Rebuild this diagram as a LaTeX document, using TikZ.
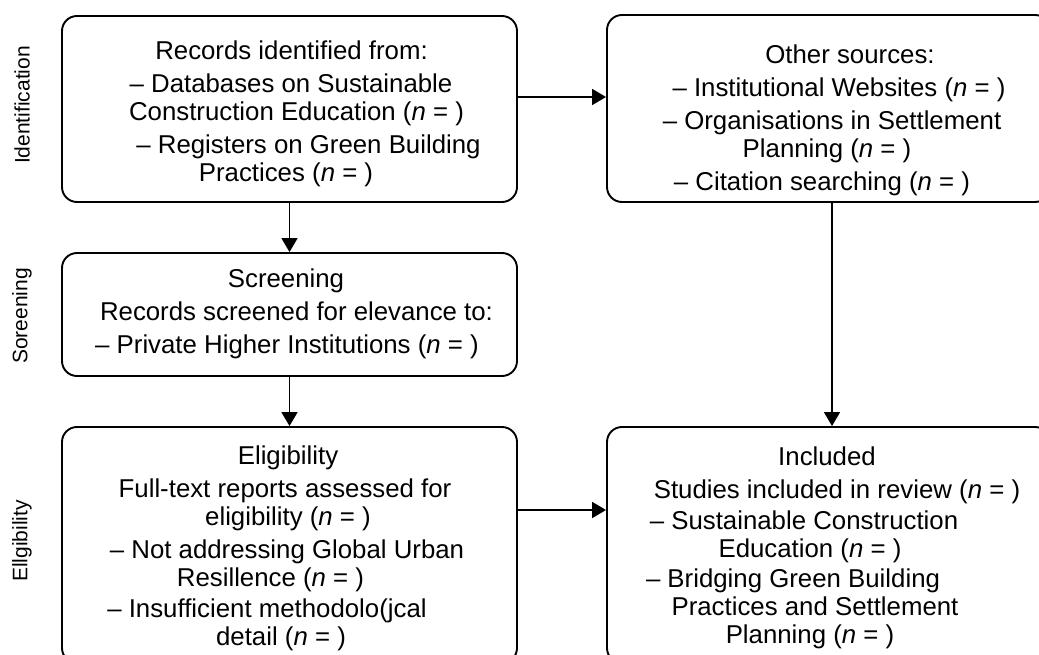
\documentclass[tikz,border=0pt]{standalone}
\usepackage{fontspec}
\setmainfont{Liberation Sans}
\usetikzlibrary{arrows.meta}
\newcommand\lineat[2]{\makebox[0pt]{\hspace*{#1pt}#2}}
\newcommand\nn{(\textit{n} = )}
\begin{document}
\begin{tikzpicture}[x=1pt,y=-1pt,
  box/.style={draw, line width=1.9pt, rounded corners=15pt, inner sep=0pt},
  txt/.style={align=center, font=\fontsize{25.8}{28}\selectfont, inner sep=0pt},
  side/.style={rotate=90, font=\fontsize{21}{25}\selectfont, inner sep=0pt},
  arr/.style={line width=1.8pt, -{Triangle[length=14pt,width=16pt]}}]
\useasboundingbox (0,0) rectangle (1039,655);
\begin{scope}
\clip (0,0) rectangle (1039,655);
\node[box, minimum width=455pt, minimum height=186pt] (A) at (289.5,109) {};
\node[box, minimum width=443pt, minimum height=187pt] (B) at (828.5,108.5) {};
\node[box, minimum width=455pt, minimum height=123pt] (C) at (289.5,314.5) {};
\node[box, minimum width=455pt, minimum height=236pt] (D) at (289.5,545) {};
\node[box, minimum width=443pt, minimum height=236pt] (E) at (828.5,545) {};
\node[txt] (At) at (289.5,113.6)
  {\lineat{4}{Records identified from:}\\[5pt]
   \lineat{3}{-- Databases on Sustainable}\\
   \lineat{14}{Construction Education \nn}\\[5pt]
   \lineat{38}{-- Registers on Green Building}\\
   \lineat{-7}{Practices \nn}};
\node[txt] (Bt) at (832,120.6)
  {\lineat{36}{Other sources:}\\[5pt]
   \lineat{14}{-- Institutional Websites \nn}\\[5pt]
   \lineat{0}{-- Organisations in Settlement}\\
   \lineat{-10}{Planning \nn}\\[5pt]
   \lineat{-20}{-- Citation searching \nn}};
\node[txt] (Ct) at (289.5,314)
  {\lineat{-7}{Screening}\\[5pt]
   \lineat{14}{Records screened for elevance to:}\\[5pt]
   \lineat{-5}{-- Private Higher Institutions \nn}};
\node[txt] (Dt) at (289.5,548.6)
  {\lineat{-3}{Eligibility}\\[5pt]
   \lineat{-9}{Full-text reports assessed for}\\
   \lineat{-3}{eligibility \nn}\\[5pt]
   \lineat{-5}{-- Not addressing Global Urban}\\
   \lineat{-38}{Resillence \nn}\\[3pt]
   \lineat{-45}{-- Insufficient methodolo(jcal}\\
   \lineat{-17}{detail \nn}};
\node[txt] (Et) at (832,547.6)
  {\lineat{-10}{Included}\\[5pt]
   \lineat{10}{Studies included in review \nn}\\[3pt]
   \lineat{-56}{-- Sustainable Construction}\\
   \lineat{-44}{Education \nn}\\[2pt]
   \lineat{-78}{-- Bridging Green Building}\\
   \lineat{-34}{Practices and Settlement}\\
   \lineat{-44}{Planning \nn}};
\end{scope}
\node[side] (L1) at (22,105) {Identification};
\node[side] (L2) at (22,316) {Soreening};
\node[side] (L3) at (22,541) {Ellgibility};
\coordinate (yAB) at (0,97);
\coordinate (yDE) at (0,510);
\coordinate (xBE) at (832,0);
\draw[arr] (A.east |- yAB) -- (B.west |- yAB);
\draw[arr] (A.south) -- (C.north);
\draw[arr] (C.south) -- (D.north);
\draw[arr] (B.south -| xBE) -- (E.north -| xBE);
\draw[arr] (D.east |- yDE) -- (E.west |- yDE);
\end{tikzpicture}
\end{document}
